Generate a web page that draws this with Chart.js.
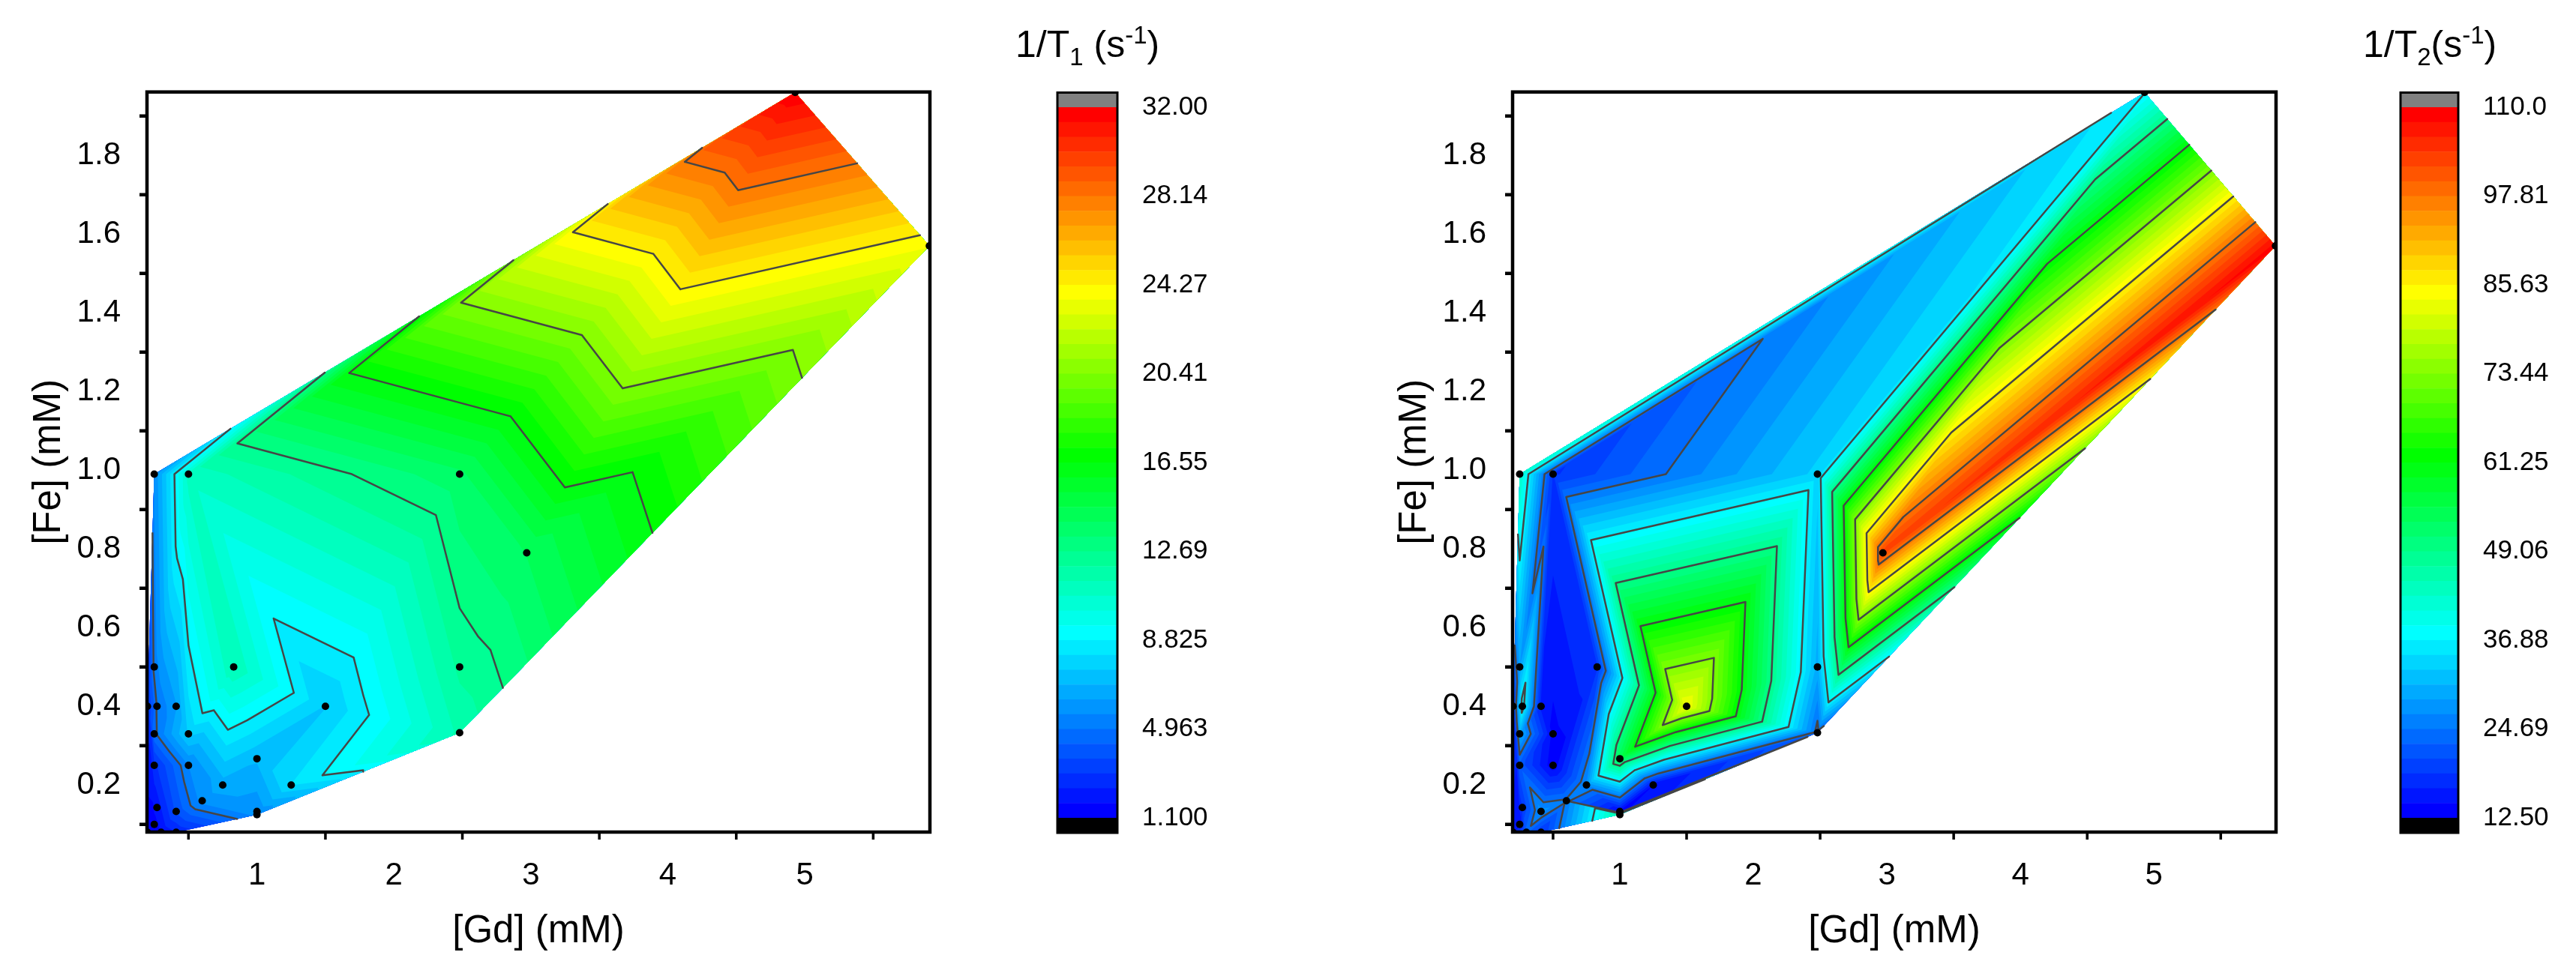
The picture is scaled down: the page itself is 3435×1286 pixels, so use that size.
<!DOCTYPE html>
<html>
<head>
<meta charset="utf-8">
<title>Relaxation rate maps</title>
<script src="https://cdn.jsdelivr.net/npm/chart.js@4/dist/chart.umd.js"></script>
<style>
    html, body { margin: 0; padding: 0; background: #fff; }
    #page { position: relative; width: 3435px; height: 1286px; overflow: hidden; }
    #page canvas { position: absolute; top: 0; }
    .barTitle { position: absolute; top: 30px; font: 50px "Liberation Sans", Arial, sans-serif; color: #000; white-space: pre; }
    .barTitle sub, .barTitle sup { font-size: 33px; line-height: 0; }
</style>
</head>
<body>
<div id="page">
    <canvas id="mapT1"></canvas>
    <canvas id="barT1"></canvas>
    <canvas id="mapT2"></canvas>
    <canvas id="barT2"></canvas>
    <div class="barTitle" style="left:1354px">1/T<sub>1</sub> (s<sup>-1</sup>)</div>
    <div class="barTitle" style="left:3151px">1/T<sub>2</sub>(s<sup>-1</sup>)</div>
</div>
<script>
// measured samples, same order in all four lists
const gd = [0.25, 0.5, 2.48, 2.97, 4.93, 5.91, 0.25, 0.83, 2.48, 0.2, 0.27, 0.41, 1.5, 0.25, 0.5,
    2.48, 1.0, 0.25, 0.5, 0.75, 1.25, 0.6, 0.27, 0.41, 1.0, 1.0, 0.25, 0.3, 0.41, 0.2];
const fe = [0.99, 0.99, 0.99, 0.79, 1.96, 1.57, 0.5, 0.5, 0.5, 0.4, 0.4, 0.4, 0.4, 0.33, 0.33,
    0.333, 0.267, 0.25, 0.25, 0.2, 0.2, 0.16, 0.143, 0.133, 0.133, 0.125, 0.1, 0.08, 0.08, 0.08];
const r1 = [5.7, 11.0, 13.8, 14.0, 31.95, 23.7, 5.2, 11.35, 12.2, 2.8, 5.0, 6.2, 7.5, 4.8, 7.7,
    11.57, 7.0, 2.8, 5.6, 6.6, 8.2, 5.9, 2.0, 3.8, 5.8, 5.8, 1.5, 1.8, 2.4, 1.3];
const r2 = [43.5, 18.2, 33.4, 103, 36.5, 109, 28.7, 18.3, 30, 18, 39, 16, 84, 30, 14,
    23.5, 54.5, 22, 13, 27, 14.5, 25.2, 18.6, 27.6, 14, 47, 15, 23.4, 18, 16];

// triangulation of the samples (indexes into the lists above)
const triangles = [
    [0, 1, 4], [1, 2, 4], [2, 3, 4], [3, 5, 4], [3, 15, 5], [3, 8, 15], [2, 8, 3],
    [1, 12, 2], [2, 12, 8], [8, 12, 15], [12, 20, 15], [24, 15, 20], [25, 15, 24],
    [1, 7, 12], [7, 16, 12], [16, 20, 12], [16, 24, 20], [16, 19, 24], [7, 19, 16],
    [19, 21, 24], [21, 25, 24], [21, 28, 25], [21, 23, 28],
    [7, 14, 18], [7, 18, 19], [18, 21, 19], [18, 23, 21], [17, 23, 18],
    [1, 11, 14], [1, 14, 7], [1, 10, 11], [1, 6, 10], [0, 6, 1], [0, 9, 6], [6, 9, 10],
    [9, 13, 10], [10, 13, 11], [11, 13, 14], [13, 17, 14], [14, 17, 18], [9, 17, 13],
    [9, 26, 17], [9, 29, 26], [17, 26, 22], [17, 22, 23], [22, 26, 27], [22, 27, 23],
    [23, 27, 28], [26, 29, 27]
];

const xTicks = [1, 2, 3, 4, 5];
const xMinorTicks = [0.5, 1.5, 2.5, 3.5, 4.5, 5.5];
const yTicks = [0.2, 0.4, 0.6, 0.8, 1.0, 1.2, 1.4, 1.6, 1.8];
const yMinorTicks = [0.1, 0.3, 0.5, 0.7, 0.9, 1.1, 1.3, 1.5, 1.7, 1.9];

const r1Labels = ['1.100', '4.963', '8.825', '12.69', '16.55', '20.41', '24.27', '28.14', '32.00'];
const r2Labels = ['12.50', '24.69', '36.88', '49.06', '61.25', '73.44', '85.63', '97.81', '110.0'];

const FONT = '"Liberation Sans", Arial, sans-serif';
const BANDS = 48;
const LINE_EVERY = 6;

// rainbow palette of the colour scale, band index -> colour
const palette = [[0, 0, 0, 255], [12, 0, 255, 255], [24, 0, 255, 0], [35, 255, 255, 0], [47, 255, 0, 0]];
const bandColor = (i) => {
    for (let s = 0; s < palette.length - 1; s++) {
        const a = palette[s], b = palette[s + 1];
        if (i <= b[0]) {
            const t = (i - a[0]) / (b[0] - a[0]);
            return `rgb(${Math.round(a[1] + (b[1] - a[1]) * t)},${Math.round(a[2] + (b[2] - a[2]) * t)},${Math.round(a[3] + (b[3] - a[3]) * t)})`;
        }
    }
}

// part of a triangle where value >= level
const clipTriangle = (tri, level) => {
    const out = [];
    for (let i = 0; i < 3; i++) {
        const a = tri[i], b = tri[(i + 1) % 3];
        if (a.v >= level) out.push(a);
        if ((a.v >= level) !== (b.v >= level)) {
            const t = (level - a.v) / (b.v - a.v);
            out.push({ x: a.x + (b.x - a.x) * t, y: a.y + (b.y - a.y) * t, v: level });
        }
    }
    return out;
}

const meshFor = (values) => triangles.map(t => {
    let tri = t.map(n => ({ x: gd[n], y: fe[n], v: values[n] }));
    // same winding everywhere so one path fills without seams
    const area = (tri[1].x - tri[0].x) * (tri[2].y - tri[0].y) - (tri[2].x - tri[0].x) * (tri[1].y - tri[0].y);
    if (area < 0) tri = [tri[0], tri[2], tri[1]];
    return tri;
});

// contour segments as scatter points, NaN breaks the line between segments
const contourPoints = (mesh, lo, hi) => {
    const pts = [];
    const step = (hi - lo) / BANDS;
    for (let k = LINE_EVERY; k < BANDS; k += LINE_EVERY) {
        const level = lo + k * step;
        mesh.forEach(tri => {
            const hit = [];
            for (let i = 0; i < 3; i++) {
                const a = tri[i], b = tri[(i + 1) % 3];
                if ((a.v >= level) !== (b.v >= level)) {
                    const t = (level - a.v) / (b.v - a.v);
                    hit.push({ x: a.x + (b.x - a.x) * t, y: a.y + (b.y - a.y) * t });
                }
            }
            if (hit.length === 2) pts.push(hit[0], hit[1], { x: NaN, y: NaN });
        });
    }
    return pts;
}

const bandFill = {
    id: 'bandFill',
    beforeDatasetsDraw(chart, args, opts) {
        const { ctx, chartArea: area, scales: { x, y } } = chart;
        const step = (opts.hi - opts.lo) / BANDS;
        ctx.save();
        ctx.beginPath();
        ctx.rect(area.left, area.top, area.width, area.height);
        ctx.clip();
        for (let i = 0; i < BANDS; i++) {
            const level = i === 0 ? -Infinity : opts.lo + i * step;
            ctx.beginPath();
            opts.mesh.forEach(tri => {
                const poly = clipTriangle(tri, level);
                poly.forEach((p, n) => {
                    const px = x.getPixelForValue(p.x), py = y.getPixelForValue(p.y);
                    if (n === 0) ctx.moveTo(px, py); else ctx.lineTo(px, py);
                });
                if (poly.length) ctx.closePath();
            });
            ctx.fillStyle = bandColor(i);
            ctx.fill();
        }
        ctx.restore();
    }
}

// closed box and the short minor ticks
const frame = {
    id: 'frame',
    afterDraw(chart, args, opts) {
        const { ctx, chartArea: area, scales } = chart;
        ctx.save();
        ctx.strokeStyle = '#000';
        ctx.lineWidth = opts.width;
        ctx.strokeRect(area.left, area.top, area.width, area.height);
        if (opts.minor) {
            ctx.lineWidth = 3.5;
            ctx.beginPath();
            xMinorTicks.forEach(v => {
                const px = scales.x.getPixelForValue(v);
                ctx.moveTo(px, area.bottom);
                ctx.lineTo(px, area.bottom + 10);
            });
            ctx.stroke();
            ctx.lineWidth = 4.5;
            ctx.beginPath();
            yMinorTicks.forEach(v => {
                const py = scales.y.getPixelForValue(v);
                ctx.moveTo(area.left, py);
                ctx.lineTo(area.left - 10, py);
            });
            ctx.stroke();
        }
        ctx.restore();
    }
}

const makeMap = (id, left, right, values, lo, hi) => {
    const canvas = document.getElementById(id);
    const canvasLeft = left - 196;
    canvas.style.left = canvasLeft + 'px';
    canvas.width = right - canvasLeft + 20;
    canvas.height = 1286;
    const mesh = meshFor(values);
    return new Chart(canvas, {
        type: 'scatter',
        data: {
            datasets: [
                {
                    label: 'samples',
                    data: gd.map((g, i) => ({ x: g, y: fe[i] })),
                    pointRadius: 5,
                    pointBackgroundColor: '#000',
                    pointBorderWidth: 0,
                    order: 0
                },
                {
                    label: 'contours',
                    data: contourPoints(mesh, lo, hi),
                    showLine: true,
                    spanGaps: false,
                    pointRadius: 0,
                    borderColor: '#464646',
                    borderWidth: 2.5,
                    borderCapStyle: 'round',
                    order: 1
                }
            ]
        },
        options: {
            responsive: false,
            animation: false,
            events: [],
            layout: { padding: { left: 0, top: 122.7, right: 20, bottom: 0 } },
            plugins: {
                legend: { display: false },
                tooltip: { enabled: false },
                bandFill: { mesh, lo, hi },
                frame: { width: 4.5, minor: true }
            },
            scales: {
                x: {
                    min: 0.197,
                    max: 5.914,
                    afterBuildTicks: (scale) => { scale.ticks = xTicks.map(value => ({ value })); },
                    afterFit: (scale) => { scale.height = 1286 - 1110; },
                    grid: { display: false, drawTicks: true, tickLength: 19, tickWidth: 3.5, tickColor: '#000' },
                    border: { display: false },
                    ticks: { color: '#000', font: { family: FONT, size: 42 }, padding: 14, maxRotation: 0, autoSkip: false },
                    title: { display: true, text: '[Gd] (mM)', color: '#000', font: { family: FONT, size: 51 }, padding: { top: 0, bottom: 12 } }
                },
                y: {
                    min: 0.0806,
                    max: 1.961,
                    afterBuildTicks: (scale) => { scale.ticks = yTicks.map(value => ({ value })); },
                    afterFit: (scale) => { scale.width = 196; },
                    grid: { display: false, drawTicks: true, tickLength: 19, tickWidth: 6, tickColor: '#000' },
                    border: { display: false },
                    ticks: { color: '#000', font: { family: FONT, size: 42 }, padding: 16, autoSkip: false, callback: (v) => v.toFixed(1) },
                    title: { display: true, text: '[Fe] (mM)', color: '#000', font: { family: FONT, size: 51 }, padding: { top: 35, bottom: 0 } }
                }
            }
        },
        plugins: [bandFill, frame]
    });
}

const makeBar = (id, left, inner, labels, lo, hi) => {
    const canvas = document.getElementById(id);
    canvas.style.left = (left - 10) + 'px';
    canvas.width = inner + 200;
    canvas.height = 1286;
    const step = (hi - lo) / BANDS;
    const levelTicks = labels.map((l, i) => lo + i * step * LINE_EVERY);
    const datasets = [{ data: [[lo - step, lo]], backgroundColor: '#000' }];
    for (let i = 0; i < BANDS; i++) {
        datasets.push({ data: [[lo + i * step, lo + (i + 1) * step]], backgroundColor: bandColor(i) });
    }
    datasets.push({ data: [[hi, hi + step]], backgroundColor: '#808080' });
    return new Chart(canvas, {
        type: 'bar',
        data: { labels: [''], datasets },
        options: {
            responsive: false,
            animation: false,
            events: [],
            layout: { padding: { left: 10, top: 123.5, bottom: 1286 - 1111, right: 0 } },
            plugins: { legend: { display: false }, tooltip: { enabled: false }, frame: { width: 3, minor: false } },
            datasets: { bar: { grouped: false, barPercentage: 1, categoryPercentage: 1, borderWidth: 0 } },
            scales: {
                x: { display: false },
                y: {
                    position: 'right',
                    min: lo - step,
                    max: hi + step,
                    afterBuildTicks: (scale) => { scale.ticks = levelTicks.map(value => ({ value })); },
                    afterFit: (scale) => { scale.width = 190; },
                    grid: { display: false, drawTicks: true, tickLength: 21, tickWidth: 4, tickColor: '#000' },
                    border: { display: false },
                    ticks: {
                        color: '#000',
                        font: { family: FONT, size: 35 },
                        padding: 12,
                        autoSkip: false,
                        callback: (v) => labels[levelTicks.findIndex(t => Math.abs(t - v) < 1e-6)]
                    }
                }
            }
        },
        plugins: [frame]
    });
}

makeMap('mapT1', 196, 1240, r1, 1.1, 32);
makeBar('barT1', 1410, 80, r1Labels, 1.1, 32);
makeMap('mapT2', 2017, 3035, r2, 12.5, 110);
makeBar('barT2', 3201, 77, r2Labels, 12.5, 110);
</script>
</body>
</html>
